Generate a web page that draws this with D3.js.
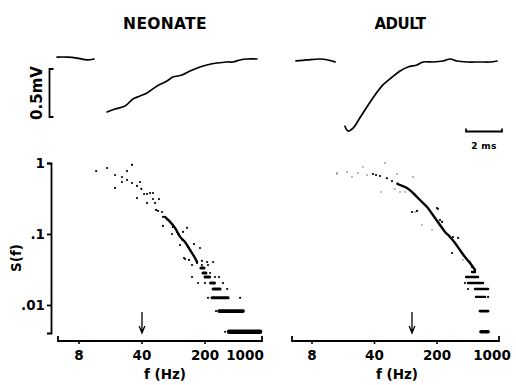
<!DOCTYPE html>
<html><head><meta charset="utf-8">
<script src="https://cdn.jsdelivr.net/npm/d3@7"></script>
<style>
body{margin:0;background:#fff}
svg{display:block}
text{font-family:"DejaVu Sans",Arial,sans-serif;font-weight:bold;fill:#000}
</style>
</head><body>
<svg width="516" height="385"></svg>
<script>
// ---------- DATA ----------
const panelTitles = ["NEONATE", "ADULT"];
const xTickValues = [8, 40, 200, 1000];
const xTickLabels = ["8", "40", "200", "1000"];
const yTickValues = [1, 0.1, 0.01];
const yTickLabels = ["1", ".1", ".01"];
const arrowFreqs = [40, 105];

// Recorded traces: [time ms, voltage mV]
const neonateBase = [[0,0.02],[0.56,0.02],[1.11,0.01],[1.67,-0.01],[2.06,0]];
const neonateTrace = [[2.78,-0.552],[3.22,-0.521],[3.78,-0.49],[4.22,-0.417],[4.61,-0.385],[5.0,-0.354],
  [5.56,-0.281],[6.11,-0.229],[6.44,-0.188],[6.94,-0.167],[7.39,-0.125],[7.94,-0.083],[8.33,-0.0625],
  [8.89,-0.042],[9.44,-0.031],[9.78,-0.031],[10.17,-0.01],[10.56,0],[11.11,0]];
const adultBase = [[0,-0.02],[0.61,-0.01],[1.33,0],[1.78,-0.01],[2.17,-0.03]];
const adultTrace = [[2.72,-0.70],[2.89,-0.75],[3.17,-0.72],[3.56,-0.61],[3.94,-0.50],[4.39,-0.375],
  [4.83,-0.27],[5.33,-0.19],[5.78,-0.125],[6.22,-0.083],[6.72,-0.0625],[7.06,-0.031],[7.61,-0.031],
  [8.17,-0.021],[8.56,0],[8.94,-0.021],[9.5,-0.031],[10.22,-0.031],[10.78,-0.031],[11.17,-0.021]];

// Spectra: [f Hz, S(f)]
const neonateDots = [[12.4,0.77],[16.4,0.85],[20.1,0.678],[24,0.635],[27.3,0.77],[31,0.94],[20.1,0.445],
  [24,0.54],[27.3,0.576],[31,0.523],[35.2,0.475],[38,0.54],[35.2,0.321],[39.3,0.431],[42.2,0.366],
  [45.5,0.366],[49.2,0.378],[53,0.378],[45.5,0.273],[53,0.311],[55.9,0.273],[61.8,0.311],[57.3,0.218],
  [60.3,0.211],[66.7,0.204],[68.4,0.174],[68.4,0.13],[86.2,0.1],[98,0.107],[114,0.107],[126.5,0.122],
  [105.7,0.07],[130,0.0656],[151,0.072],[176,0.0635],[120,0.0445],[133,0.0431],[185,0.0417],[211,0.0403],
  [246,0.0403],[117,0.0459],[143.6,0.0366],[163,0.039],[185,0.0366],[216,0.0366],[228,0.0282],
  [143.6,0.0248],[258,0.0248],[286,0.0248],[167.5,0.0204],[200,0.0204],[317,0.0204],[352,0.0168],
  [216,0.0126],[490,0.0126],[265,0.0082],[334,0.0042],[76,0.16],[88,0.125],[102,0.1],[112,0.083]];
const neonateRidge = [[72,0.174],[82,0.148],[93,0.122],[106,0.091],[120,0.077],[136.5,0.0595],[155,0.0459],[163,0.0403]];
// horizontal smears: [f start, f end, S]
const neonateBands = [[180,195,0.0332],[190,205,0.0282],[200,225,0.0248],[230,255,0.0204],[246,294,0.0168],
  [239,361,0.0126],[286,529,0.0082],[370,817,0.0042]];

const adultFaint = [[15.2,0.723],[15.2,0.70],[19.7,0.747],[22.4,0.635],[26.2,0.723],[29.7,0.88],[33,0.678],
  [52.5,1.0],[55.2,0.615],[71.4,0.70],[73.3,0.523],[108,0.635],[47.3,0.391],[67.8,0.431],[77.1,0.391],
  [87.8,0.391],[113.6,0.204],[176,0.114],[136,0.134],[391,0.0431]];
const adultDots = [[38.5,0.70],[41.6,0.678],[46.1,0.656],[55,0.61],[62.8,0.557],[105,0.204],[119.5,0.211],
  [200,0.232],[205,0.226],[216,0.157],[228,0.148],[302,0.0907],[344,0.088],[295,0.054],[468,0.0403],
  [493,0.0343],[411,0.0204],[445,0.0168],[745,0.013]];
const adultRidge = [[72,0.51],[77.1,0.49],[92.4,0.445],[108,0.378],[129,0.301],[155,0.24],[180,0.185],
  [216,0.134],[246,0.107],[280,0.0907],[318,0.0747],[361,0.0595],[411,0.0474],[468,0.039],[532,0.0311]];
const adultBands = [[493,532,0.0292],[423,576,0.0248],[445,655,0.0204],[532,745,0.0168],[546,689,0.013],
  [605,745,0.0082],[621,665,0.0042],[690,745,0.0042]];

// ---------- DRAW ----------
const svg = d3.select("svg");
const ink = "#000";

// titles
svg.append("text").attr("x",165).attr("y",29).attr("text-anchor","middle")
  .attr("font-size",15.5).attr("letter-spacing",0.3).text(panelTitles[0]);
svg.append("text").attr("x",400).attr("y",29).attr("text-anchor","middle")
  .attr("font-size",15).attr("letter-spacing",-0.5).text(panelTitles[1]);

// traces
const vY = d3.scaleLinear().domain([0,-0.5]).range([59,107]);
const neoT = d3.scaleLinear().domain([0,1]).range([57,75]);
const adT = d3.scaleLinear().domain([0,1]).range([296,314]);
function trace(data, tx){
  svg.append("path").datum(data)
    .attr("d", d3.line().x(d=>tx(d[0])).y(d=>vY(d[1])).curve(d3.curveCatmullRom))
    .attr("fill","none").attr("stroke",ink).attr("stroke-width",1.7).attr("stroke-linecap","round");
}
trace(neonateBase, neoT); trace(neonateTrace, neoT);
trace(adultBase, adT); trace(adultTrace, adT);

// voltage scale bar 0.5 mV
const vb0 = vY(0) + 10, vb1 = vb0 + (vY(-0.5)-vY(0));
svg.append("path").attr("d",`M53.5,${vb0}H49.5V${vb1}H53.5`).attr("fill","none")
  .attr("stroke",ink).attr("stroke-width",1.8);
svg.append("text").attr("transform",`translate(42,${(vb0+vb1)/2}) rotate(-90)`)
  .attr("text-anchor","middle").attr("font-size",15).text("0.5mV");

// time scale bar 2 ms
const tb0 = 466, tb1 = tb0 + (adT(2)-adT(0));
svg.append("path").attr("d",`M${tb0},128.5V131.5H${tb1}V128.5`).attr("fill","none")
  .attr("stroke",ink).attr("stroke-width",1.8);
svg.append("text").attr("x",(tb0+tb1)/2).attr("y",149).attr("text-anchor","middle")
  .attr("font-size",9).attr("letter-spacing",0.4).text("2 ms");

// spectra scales
const yS = d3.scaleLog().domain([1,0.00403]).range([163,333]);
const xL = d3.scaleLog().domain([8,1000]).range([79,268]);
const xR = d3.scaleLog().domain([8,1000]).range([312,499.5]);

// y axis
const yAxis = d3.axisLeft(yS).tickValues(yTickValues)
  .tickFormat((d,i)=>yTickLabels[i]).tickSize(4).tickSizeOuter(4).tickPadding(2);
const gy = svg.append("g").attr("transform","translate(51,0)").call(yAxis);
gy.select(".domain").attr("stroke",ink).attr("stroke-width",1.8);
gy.selectAll(".tick line").attr("stroke",ink).attr("stroke-width",1.8);
gy.selectAll(".tick text").attr("font-size",13.5).attr("font-family","DejaVu Sans")
  .attr("font-weight","bold").attr("fill",ink);
svg.append("text").attr("transform","translate(21,258) rotate(-90)").attr("text-anchor","middle")
  .attr("font-size",13.5).text("S(f)");

// x axes
function xAxis(x, x0, x1, lastDx, labelX){
  const y0 = 341;
  svg.append("path").attr("d",`M${x0},${y0-5}V${y0}H${x1}V${y0-5}`).attr("fill","none")
    .attr("stroke",ink).attr("stroke-width",1.8);
  xTickValues.forEach((v,i)=>{
    const px = x(v);
    if (px < x1 - 2) svg.append("line").attr("x1",px).attr("x2",px).attr("y1",y0).attr("y2",y0+3)
      .attr("stroke",ink).attr("stroke-width",1.6);
    svg.append("text").attr("x", i===xTickValues.length-1 ? px+lastDx : px).attr("y",360)
      .attr("text-anchor","middle").attr("font-size",13.5).text(xTickLabels[i]);
  });
  svg.append("text").attr("x",labelX).attr("y",379).attr("text-anchor","middle")
    .attr("font-size",13.5).text("f (Hz)");
}
xAxis(xL, 58, 262, -23, 165);
xAxis(xR, 292, 499, -7.5, 397);

// arrows
function arrow(px){
  svg.append("path").attr("d",`M${px},312V333M${px-2.8},326L${px},333L${px+2.8},326`)
    .attr("fill","none").attr("stroke",ink).attr("stroke-width",1.3);
}
arrow(xL(arrowFreqs[0])); arrow(xR(arrowFreqs[1]));

// spectra
function spectrum(x, dots, ridge, bands, faint, bandScale){
  if (faint) svg.append("g").selectAll("circle").data(faint).join("circle")
    .attr("cx",d=>x(d[0])).attr("cy",d=>yS(d[1])).attr("r",0.9).attr("fill","#999");
  svg.append("path").datum(ridge)
    .attr("d", d3.line().x(d=>x(d[0])).y(d=>yS(d[1])).curve(d3.curveCatmullRom))
    .attr("fill","none").attr("stroke",ink).attr("stroke-width",2.4).attr("stroke-linecap","round");
  svg.append("g").selectAll("circle").data(dots).join("circle")
    .attr("cx",d=>x(d[0])).attr("cy",d=>yS(d[1])).attr("r",1.1).attr("fill",ink);
  svg.append("g").selectAll("line").data(bands).join("line")
    .attr("x1",d=>x(d[0])).attr("x2",d=>x(d[1])).attr("y1",d=>yS(d[2])).attr("y2",d=>yS(d[2]))
    .attr("stroke",ink).attr("stroke-linecap","round")
    .attr("stroke-width",d=> bandScale * (d[2] < 0.005 ? 4.5 : d[2] < 0.01 ? 3.6 : 3));
}
spectrum(xL, neonateDots, neonateRidge, neonateBands, null, 1);
spectrum(xR, adultDots, adultRidge, adultBands, adultFaint, 0.8);
</script>
</body></html>
